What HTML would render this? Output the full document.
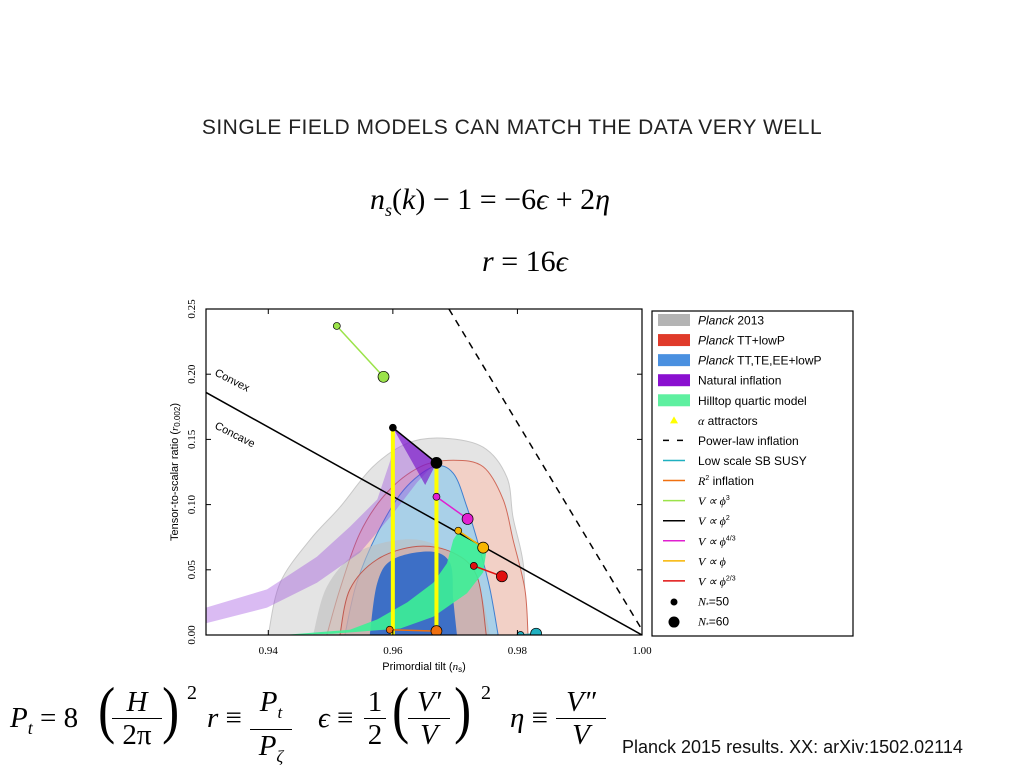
<!DOCTYPE html>
<html><head><meta charset="utf-8"><style>
body{margin:0;background:#fff;width:1024px;height:768px;overflow:hidden;position:relative;font-family:"Liberation Sans",sans-serif}
.abs{position:absolute;white-space:nowrap}
.m{font-family:"Liberation Serif",serif}
.fr{position:absolute;text-align:center;font-family:"Liberation Serif",serif;font-size:29px;line-height:32px}
.fr .d{border-top:1.5px solid #000;display:block}
.eq{position:absolute;font-family:"Liberation Serif",serif;font-size:29px;top:702px;white-space:nowrap}
.par{position:absolute;font-family:"Liberation Serif",serif;font-size:64px;top:673px;transform:scaleX(0.8)}
.sq{position:absolute;font-family:"Liberation Serif",serif;font-size:20px;top:682px}
</style></head><body>
<div class="abs" style="left:0;width:1024px;top:116px;text-align:center;font-size:21px;color:#222;letter-spacing:0.5px">SINGLE FIELD MODELS CAN MATCH THE DATA VERY WELL</div>
<div class="abs m" style="left:370px;top:183px;font-size:30px"><i>n<sub style="font-size:18px">s</sub></i>(<i>k</i>) − 1 = −6<i>ϵ</i> + 2<i>η</i></div>
<div class="abs m" style="left:482px;top:245px;font-size:30px"><i>r</i> = 16<i>ϵ</i></div>

<svg id="chart" width="1024" height="768" style="position:absolute;left:0;top:0" xmlns="http://www.w3.org/2000/svg"></svg>

<div>
<div class="eq" style="left:10px"><i>P<sub style="font-size:18px">t</sub></i> = 8</div>
<div class="par" style="left:96px">(</div>
<div class="fr" style="left:112px;top:686px;width:50px"><i>H</i><span class="d">2π</span></div>
<div class="par" style="left:160px">)</div>
<div class="sq" style="left:187px">2</div>
<div class="eq" style="left:207px"><i>r</i> ≡</div>
<div class="fr" style="left:250px;top:686px;width:42px"><i>P<sub style="font-size:17px">t</sub></i><span class="d"><i>P<sub style="font-size:17px">ζ</sub></i></span></div>
<div class="eq" style="left:318px"><i>ϵ</i> ≡</div>
<div class="fr" style="left:364px;top:686px;width:22px">1<span class="d">2</span></div>
<div class="par" style="left:390px">(</div>
<div class="fr" style="left:408px;top:686px;width:42px"><i>V′</i><span class="d"><i>V</i></span></div>
<div class="par" style="left:452px">)</div>
<div class="sq" style="left:481px">2</div>
<div class="eq" style="left:510px"><i>η</i> ≡</div>
<div class="fr" style="left:556px;top:686px;width:50px"><i>V″</i><span class="d"><i>V</i></span></div>
</div>
<div class="abs" style="left:622px;top:737px;font-size:18px;color:#111">Planck 2015 results. XX: arXiv:1502.02114</div>

<script>
const xTicks=[0.94,0.96,0.98,1.00];
const yTicks=[0.00,0.05,0.10,0.15,0.20,0.25];
const xTickLabels=["0.94","0.96","0.98","1.00"];
const yTickLabels=["0.00","0.05","0.10","0.15","0.20","0.25"];
const grey2=[[0.9400,0],[0.9419,0.04],[0.9467,0.073],[0.9515,0.098],[0.9568,0.129],[0.9623,0.147],[0.968,0.151],[0.9745,0.144],[0.9783,0.121],[0.9793,0.090],[0.981,0.052],[0.9812,0]];
const grey1=[[0.9472,0],[0.9494,0.037],[0.9542,0.063],[0.9612,0.073],[0.9665,0.070],[0.9713,0.055],[0.974,0.035],[0.9756,0]];
const red2=[[0.9494,0],[0.9515,0.035],[0.9547,0.078],[0.959,0.109],[0.9644,0.129],[0.9697,0.134],[0.9745,0.129],[0.9777,0.104],[0.9793,0.073],[0.9812,0.035],[0.9817,0]];
const red1=[[0.9515,0],[0.9531,0.035],[0.9575,0.058],[0.9639,0.068],[0.9697,0.063],[0.9735,0.045],[0.975,0]];
const blue2=[[0.9523,0],[0.9542,0.04],[0.9575,0.078],[0.9617,0.111],[0.9665,0.129],[0.9697,0.124],[0.9719,0.098],[0.974,0.065],[0.9756,0.035],[0.9769,0]];
const blue1=[[0.9563,0],[0.9575,0.04],[0.960,0.058],[0.966,0.064],[0.9692,0.055],[0.9697,0.027],[0.9703,0]];
const purpleLow=[[0.93,0.009],[0.9398,0.021],[0.9478,0.040],[0.9547,0.063],[0.960,0.093],[0.9639,0.117],[0.9668,0.132]];
const purpleHigh=[[0.93,0.021],[0.9398,0.035],[0.9478,0.060],[0.9531,0.083],[0.9575,0.104],[0.9596,0.134],[0.9604,0.157]];
const greenHigh=[[0.9424,0],[0.9531,0.004],[0.9575,0.012],[0.9623,0.025],[0.9665,0.040],[0.9687,0.055],[0.9697,0.073],[0.9705,0.079]];
const greenLow=[[0.9751,0.067],[0.9745,0.048],[0.9719,0.032],[0.9665,0.014],[0.9612,0.005],[0.9504,0.001],[0.9424,0]];
const modelNames=["phi3","phi2","phi43","phi1","phi23","r2","susy"];
const modelColors=["#9be34a","#000","#e020d0","#f7b500","#e01010","#f07010","#20b0c0"];
const ns50=[0.951,0.960,0.967,0.9705,0.973,0.9595,0.9805];
const r50=[0.237,0.159,0.106,0.080,0.053,0.004,0.000];
const ns60=[0.9585,0.967,0.972,0.9745,0.9775,0.967,0.983];
const r60=[0.198,0.132,0.089,0.067,0.045,0.003,0.001];
const alphaNs=[0.960,0.967];
const concave=[[0.93,0.186],[1.0,0]];
const powerLaw=[[0.969,0.25],[1.0,0.004]];

const L=206,R=642,T=309,B=635;
const X=v=>L+(v-0.93)/0.07*(R-L);
const Y=v=>B-v/0.25*(B-T);
const svg=document.getElementById('chart');
const NS='http://www.w3.org/2000/svg';
function mk(tag,attrs,parent){const e=document.createElementNS(NS,tag);for(const k in attrs)e.setAttribute(k,attrs[k]);(parent||svg).appendChild(e);return e;}
function pts(a){return a.map(p=>X(p[0]).toFixed(1)+','+Y(p[1]).toFixed(1)).join(' ');}
function smooth(a){const p=a.map(q=>[X(q[0]),Y(q[1])]);let d='M'+p[0][0]+','+p[0][1];
for(let i=0;i<p.length-1;i++){const p0=p[Math.max(0,i-1)],p1=p[i],p2=p[i+1],p3=p[Math.min(p.length-1,i+2)];
d+=` C${p1[0]+(p2[0]-p0[0])/6},${p1[1]+(p2[1]-p0[1])/6} ${p2[0]-(p3[0]-p1[0])/6},${p2[1]-(p3[1]-p1[1])/6} ${p2[0]},${p2[1]}`;}return d;}
const clip=mk('clipPath',{id:'pc'});mk('rect',{x:L,y:T,width:R-L,height:B-T},clip);
const g=mk('g',{'clip-path':'url(#pc)'});
function area(a,fill,stroke,name,sm){const e=sm?mk('path',{d:smooth(a)+'Z',fill:fill,stroke:stroke||'none','stroke-width':1},g):mk('polygon',{points:pts(a),fill:fill,stroke:stroke||'none','stroke-width':1},g);

}
area(grey2,'#e4e4e4','#c8c8c8','planck2013-2sigma',1);
area(red2,'#f2d0c6','#d06a5a','planck-tt-2sigma',1);
area(blue2,'#a9d0e8','#3f7fd0','planck-tte-2sigma',1);
area(grey1,'rgba(190,190,190,0.6)','none','planck2013-1sigma',1);
area(red1,'rgba(225,160,150,0.5)','#c05a50','planck-tt-1sigma',1);
area(blue1,'#3d6fc6','none','planck-tte-1sigma',1);
area(purpleLow.concat(purpleHigh.slice().reverse()),'rgba(150,60,220,0.35)','none','natural-inflation-band',0);
area(greenHigh.concat(greenLow),'rgba(60,240,150,0.9)','none','hilltop-band',0);
let e;
e=mk('line',{x1:X(concave[0][0]),y1:Y(concave[0][1]),x2:X(concave[1][0]),y2:Y(concave[1][1]),stroke:'#000','stroke-width':1.5},g);


e=mk('line',{x1:X(powerLaw[0][0]),y1:Y(powerLaw[0][1]),x2:X(powerLaw[1][0]),y2:Y(powerLaw[1][1]),stroke:'#000','stroke-width':1.5,'stroke-dasharray':'7,6'},g);


mk('polygon',{points:pts([[ns50[1],r50[1]],[ns60[1],r60[1]],[0.9652,0.115]]),fill:'rgba(120,20,200,0.65)'},g);
alphaNs.forEach((v,i)=>{const rr=i?r60[1]:r50[1];
e=mk('line',{x1:X(v),y1:Y(0),x2:X(v),y2:Y(rr),stroke:'#ffff00','stroke-width':4},g);

});
modelNames.forEach((n,i)=>{
e=mk('line',{x1:X(ns50[i]),y1:Y(r50[i]),x2:X(ns60[i]),y2:Y(r60[i]),stroke:modelColors[i],'stroke-width':1.5},g);


e=mk('circle',{cx:X(ns50[i]),cy:Y(r50[i]),r:3.5,fill:modelColors[i],stroke:'#000','stroke-width':0.7},g);


e=mk('circle',{cx:X(ns60[i]),cy:Y(r60[i]),r:5.5,fill:modelColors[i],stroke:'#000','stroke-width':0.7},g);


});
e=mk('rect',{x:L,y:T,width:R-L,height:B-T,fill:'none',stroke:'#000','stroke-width':1.2});


xTicks.forEach((v,i)=>{mk('line',{x1:X(v),y1:B,x2:X(v),y2:B-5,stroke:'#000'});mk('line',{x1:X(v),y1:T,x2:X(v),y2:T+5,stroke:'#000'});
e=mk('text',{x:X(v),y:B+19,'text-anchor':'middle','font-family':'Liberation Serif,serif','font-size':11});e.textContent=xTickLabels[i];

});
yTicks.forEach((v,i)=>{mk('line',{x1:L,y1:Y(v),x2:L+5,y2:Y(v),stroke:'#000'});mk('line',{x1:R,y1:Y(v),x2:R-5,y2:Y(v),stroke:'#000'});
e=mk('text',{x:0,y:0,transform:`translate(195,${Y(v)}) rotate(-90)`,'text-anchor':'middle','font-family':'Liberation Serif,serif','font-size':11});e.textContent=yTickLabels[i];

});
e=mk('text',{x:424,y:670,'text-anchor':'middle','font-size':11});e.innerHTML='Primordial tilt (<tspan font-style="italic" font-family="Liberation Serif">n</tspan><tspan font-size="8" dy="2">s</tspan><tspan dy="-2">)</tspan>';


e=mk('text',{x:0,y:0,transform:'translate(178,472) rotate(-90)','text-anchor':'middle','font-size':11});e.innerHTML='Tensor-to-scalar ratio (<tspan font-style="italic" font-family="Liberation Serif">r</tspan><tspan font-size="8" dy="2">0.002</tspan><tspan dy="-2">)</tspan>';


e=mk('text',{x:0,y:0,transform:'translate(214,375) rotate(27)','font-size':11});e.textContent='Convex';


e=mk('text',{x:0,y:0,transform:'translate(214,428) rotate(27)','font-size':11});e.textContent='Concave';


const legLabels=['<tspan font-style="italic">Planck</tspan> 2013','<tspan font-style="italic">Planck</tspan> TT+lowP','<tspan font-style="italic">Planck</tspan> TT,TE,EE+lowP','Natural inflation','Hilltop quartic model','<tspan font-style="italic" font-family="Liberation Serif">α</tspan> attractors','Power-law inflation','Low scale SB SUSY','<tspan font-style="italic" font-family="Liberation Serif">R</tspan><tspan font-size="7" dy="-5">2</tspan><tspan dy="5"> inflation</tspan>','<tspan font-family="Liberation Serif" font-style="italic">V ∝ ϕ</tspan><tspan font-size="7" dy="-5">3</tspan>','<tspan font-family="Liberation Serif" font-style="italic">V ∝ ϕ</tspan><tspan font-size="7" dy="-5">2</tspan>','<tspan font-family="Liberation Serif" font-style="italic">V ∝ ϕ</tspan><tspan font-size="7" dy="-5">4/3</tspan>','<tspan font-family="Liberation Serif" font-style="italic">V ∝ ϕ</tspan>','<tspan font-family="Liberation Serif" font-style="italic">V ∝ ϕ</tspan><tspan font-size="7" dy="-5">2/3</tspan>','<tspan font-family="Liberation Serif" font-style="italic">N</tspan><tspan font-size="7" dy="2">*</tspan><tspan dy="-2">=50</tspan>','<tspan font-family="Liberation Serif" font-style="italic">N</tspan><tspan font-size="7" dy="2">*</tspan><tspan dy="-2">=60</tspan>'];
const legSw=['#b4b4b4','#e03a2a','#4a90e0','#8a10d0','#5ef0a0'];
const lg=mk('g',{});


mk('rect',{x:652,y:311,width:201,height:325,fill:'#fff',stroke:'#000','stroke-width':1.2},lg);
legLabels.forEach((t,i)=>{const y=320+i*20.07;
if(i<5)mk('rect',{x:658,y:y-6,width:32,height:12,fill:legSw[i]},lg);
else if(i==5)mk('polygon',{points:`${674},${y-4} ${670},${y+3} ${678},${y+3}`,fill:'#ffff00'},lg);
else if(i==6)mk('line',{x1:663,y1:y,x2:685,y2:y,stroke:'#000','stroke-width':1.5,'stroke-dasharray':'6,8'},lg);
else if(i<14){const c=['#20b0c0','#f07010','#9be34a','#000','#e020d0','#f7b500','#e01010'][i-7];mk('line',{x1:663,y1:y,x2:685,y2:y,stroke:c,'stroke-width':1.5},lg);}
else mk('circle',{cx:674,cy:y+1,r:i==14?3.5:5.5,fill:'#000'},lg);
const tx=mk('text',{x:698,y:y+4.5,'font-size':12},lg);tx.innerHTML=t;


});
</script>
</body></html>
